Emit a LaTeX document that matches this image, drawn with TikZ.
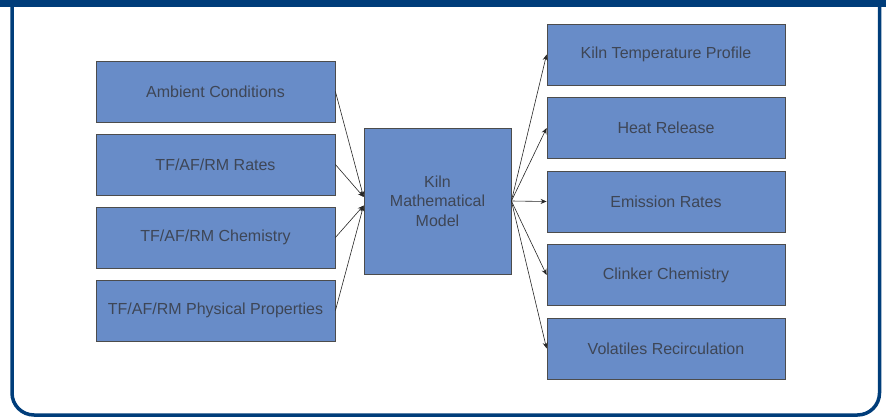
\documentclass[tikz,border=0pt]{standalone}
\usepackage{fontspec}
\setmainfont{Liberation Sans}
\usetikzlibrary{arrows.meta,shadows}
\definecolor{navy}{RGB}{0,61,122}
\definecolor{slate}{RGB}{104,140,200}
\definecolor{inkgray}{RGB}{62,70,86}
\definecolor{blush}{RGB}{225,170,160}
\tikzset{
  >={Stealth[length=6pt,width=5pt]},
  block/.style={draw=black!70,fill=slate,line width=0.8pt,minimum width=#1,minimum height=61pt,
    text=inkgray,font=\fontsize{16}{19.5}\selectfont,align=center,inner sep=0pt,
    drop shadow={opacity=0.5,shadow xshift=0.8pt,shadow yshift=-0.8pt,fill=blush}},
  block/.default=239pt,
  link/.style={->,draw=black!85,line width=0.6pt},
}
\begin{document}
\begin{tikzpicture}[x=1pt,y=-1pt]
  \useasboundingbox (0,0) rectangle (886,417);
  % frame
  \fill[navy] (0,0) rectangle (886,7);
  \draw[navy,line width=3.5pt,rounded corners=22pt] (12,5) -- (12,415) -- (879.5,415) -- (879.5,5);
  % model
  \node[block=147pt,minimum height=146pt] (model) at (437.5,201) {Kiln\\Mathematical\\Model};
  \foreach \t [count=\i from 0] in {{Ambient Conditions},{TF/AF/RM Rates},{TF/AF/RM Chemistry},{TF/AF/RM Physical Properties}}{
    \node[block] (in\i) at (215.5,91.5+73*\i) {\t};
  }
  \foreach \t [count=\i from 0] in {{Kiln Temperature Profile},{Heat Release},{Emission Rates},{Clinker Chemistry},{Volatiles Recirculation}}{
    \node[block=238pt] (out\i) at (666,54.5+73.5*\i) {\t};
  }
  % arrows
  \foreach \i/\dy in {0/4,1/4,2/-4.5,3/-4.5} \draw[link] (in\i.east) -- ([yshift=\dy pt]model.west);
  \foreach \i in {0,...,4} \draw[link] (model.east) -- (out\i.west);
\end{tikzpicture}
\end{document}
